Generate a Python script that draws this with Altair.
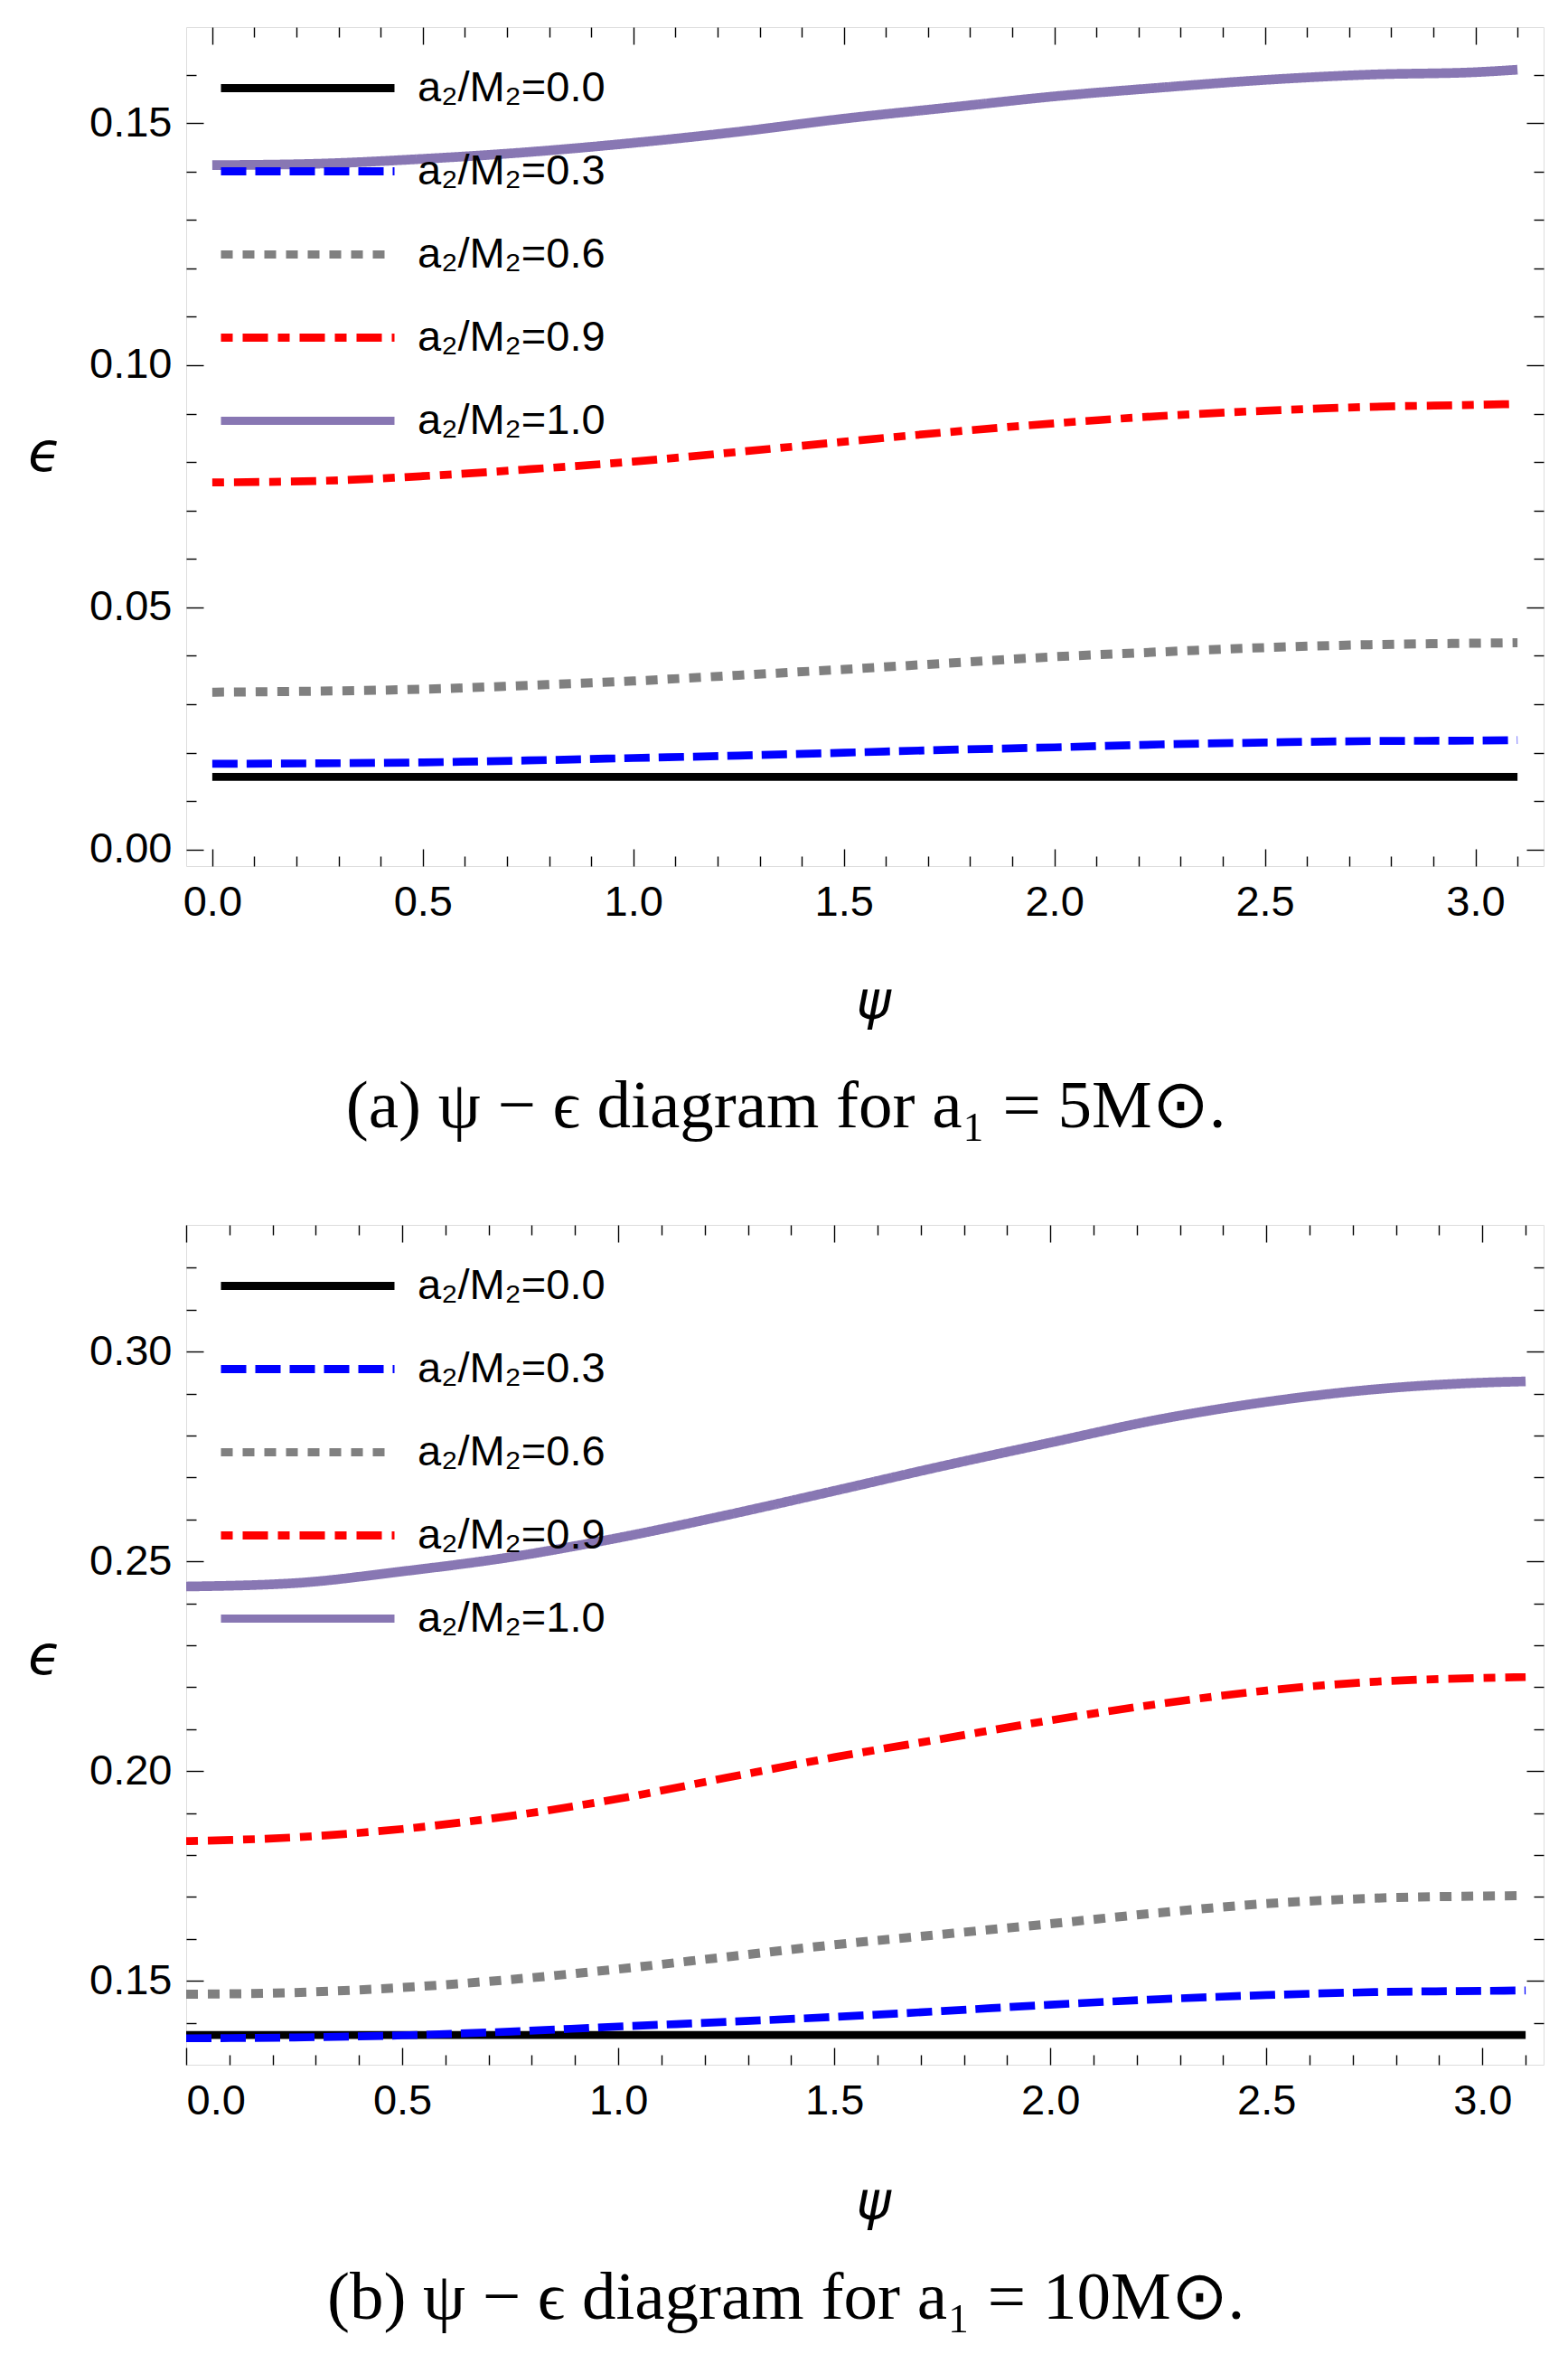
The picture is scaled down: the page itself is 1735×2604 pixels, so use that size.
import altair as alt
import pandas as pd

# ---------------- data ----------------
psi = [0.0, 0.25, 0.5, 0.75, 1.0, 1.25, 1.5, 1.75, 2.0, 2.25, 2.5, 2.75, 3.0, 3.1]

ratios = [0.0, 0.3, 0.6, 0.9, 1.0]
labels = ["a₂/M₂=0.0", "a₂/M₂=0.3", "a₂/M₂=0.6", "a₂/M₂=0.9", "a₂/M₂=1.0"]

# panel (a): a1 = 5 M_sun
a_00 = [0.0150, 0.0150, 0.0150, 0.0150, 0.0150, 0.0150, 0.0150, 0.0150, 0.0150, 0.0150, 0.0150, 0.0150, 0.0150, 0.0150]
a_03 = [0.0177, 0.0178, 0.0180, 0.0184, 0.0189, 0.0194, 0.0200, 0.0206, 0.0211, 0.0217, 0.0221, 0.0224, 0.0225, 0.0226]
a_06 = [0.0325, 0.0327, 0.0331, 0.0339, 0.0348, 0.0360, 0.0372, 0.0385, 0.0398, 0.0408, 0.0417, 0.0423, 0.0426, 0.0427]
a_09 = [0.0758, 0.0761, 0.0771, 0.0785, 0.0801, 0.0821, 0.0842, 0.0862, 0.0880, 0.0895, 0.0906, 0.0914, 0.0918, 0.0920]
a_10 = [0.1413, 0.1416, 0.1426, 0.1440, 0.1459, 0.1482, 0.1509, 0.1532, 0.1555, 0.1573, 0.1589, 0.1600, 0.1605, 0.1610]

# panel (b): a1 = 10 M_sun
b_00 = [0.1371, 0.1371, 0.1371, 0.1371, 0.1371, 0.1371, 0.1371, 0.1371, 0.1371, 0.1371, 0.1371, 0.1371, 0.1371, 0.1371]
b_03 = [0.1363, 0.1365, 0.1370, 0.1379, 0.1391, 0.1402, 0.1414, 0.1428, 0.1443, 0.1456, 0.1466, 0.1473, 0.1476, 0.1477]
b_06 = [0.1468, 0.1472, 0.1484, 0.1503, 0.1528, 0.1557, 0.1586, 0.1611, 0.1636, 0.1662, 0.1684, 0.1697, 0.1702, 0.1703]
b_09 = [0.1833, 0.1842, 0.1862, 0.1893, 0.1934, 0.1984, 0.2033, 0.2077, 0.2121, 0.2160, 0.2192, 0.2213, 0.2222, 0.2224]
b_10 = [0.2440, 0.2448, 0.2476, 0.2510, 0.2556, 0.2610, 0.2668, 0.2727, 0.2783, 0.2838, 0.2880, 0.2910, 0.2926, 0.2929]

# axis ticks
x_major = [0.0, 0.5, 1.0, 1.5, 2.0, 2.5, 3.0]
x_minor = [0.1, 0.2, 0.3, 0.4, 0.6, 0.7, 0.8, 0.9, 1.1, 1.2, 1.3, 1.4, 1.6, 1.7, 1.8, 1.9,
           2.1, 2.2, 2.3, 2.4, 2.6, 2.7, 2.8, 2.9, 3.1]
ya_major = [0.0, 0.05, 0.10, 0.15]
ya_minor = [0.01, 0.02, 0.03, 0.04, 0.06, 0.07, 0.08, 0.09, 0.11, 0.12, 0.13, 0.14, 0.16]
yb_major = [0.15, 0.20, 0.25, 0.30]
yb_minor = [0.14, 0.16, 0.17, 0.18, 0.19, 0.21, 0.22, 0.23, 0.24, 0.26, 0.27, 0.28, 0.29, 0.31, 0.32]

xa_domain = [-0.062, 3.162]
ya_domain = [-0.0034, 0.1698]
xb_domain = [0.0, 3.1416]
yb_domain = [0.1300, 0.3302]

caption_a = "(a) ψ − ϵ diagram for a₁ = 5M⊙."
caption_b = "(b) ψ − ϵ diagram for a₁ = 10M⊙."

# ---------------- styles ----------------
colors = ["#000000", "#0000ff", "#808080", "#ff0000", "#8877b3"]
dashes = [[1, 0], [28, 10], [13, 11], [13, 11, 28, 11], [1, 0]]
SANS = "Liberation Sans"
MATH = "DejaVu Sans"
SERIF = "Liberation Serif"
W = 1502
LEGEND_LINE = "M-4,0H4"   # long horizontal legend sample (scaled by symbolSize)


def long_table(series):
    rows = []
    for lab, r, vals in zip(labels, ratios, series):
        for p, v in zip(psi, vals):
            rows.append({"psi": p, "eps": v, "series": lab, "ratio": r})
    return pd.DataFrame(rows)


def tick_axis(orient, values, size):
    return alt.Axis(orient=orient, values=values, tickSize=size, offset=-size,
                    labels=False, domain=False, grid=False, ticks=True,
                    tickColor="black", tickWidth=1.4, title=None)


def panel(df, xdom, ydom, ymaj, ymin, caption, height, eps_y, psi_y, cap_offset):
    xs = alt.Scale(domain=xdom, nice=False, zero=False)
    ys = alt.Scale(domain=ydom, nice=False, zero=False)
    legend = alt.Legend(orient="none", legendX=106, legendY=39, title=None,
                        symbolType=LEGEND_LINE, symbolSize=2304, symbolStrokeWidth=9,
                        labelFont=SANS, labelFontSize=47, labelColor="black",
                        labelOffset=93, labelLimit=600, rowPadding=40, padding=0)
    color = alt.Color("series:N", scale=alt.Scale(domain=labels, range=colors), legend=legend)
    dash = alt.StrokeDash("series:N", scale=alt.Scale(domain=labels, range=dashes), legend=legend)
    width_enc = {"condition": [{"test": "datum.ratio == 1", "value": 10.7},
                               {"test": "datum.ratio == 0.6", "value": 10}],
                 "value": 8.7}

    lines = alt.Chart(df).mark_line(strokeCap="butt", strokeJoin="round",
                                    interpolate="monotone", clip=True).encode(
        x=alt.X("psi:Q", scale=xs, axis=alt.Axis(
            orient="bottom", values=x_major, format=".1f", tickSize=19, offset=-19,
            labelPadding=17, domain=False, grid=False, tickColor="black", tickWidth=1.4,
            labelFont=SANS, labelFontSize=47, labelColor="black",
            title="ψ", titleFont=MATH, titleFontStyle="italic", titleFontWeight="normal",
            titleFontSize=58, titleColor="black", titleX=760, titleY=psi_y,
            titleAlign="center", titleBaseline="middle")),
        y=alt.Y("eps:Q", scale=ys, axis=alt.Axis(
            orient="left", values=ymaj, format=".2f", tickSize=19, offset=-19,
            labelPadding=16, domain=False, grid=False, tickColor="black", tickWidth=1.4,
            labelFont=SANS, labelFontSize=47, labelColor="black",
            title="ϵ", titleFont=MATH, titleFontStyle="italic", titleFontWeight="normal",
            titleFontSize=60, titleColor="black", titleAngle=0, titleX=-176, titleY=eps_y,
            titleAlign="center", titleBaseline="middle")),
        color=color,
        strokeDash=dash,
        strokeWidth=width_enc,
    )

    ghost = alt.Chart(df).mark_point(opacity=0, size=1)
    l_minor = ghost.encode(x=alt.X("psi:Q", scale=xs, axis=tick_axis("bottom", x_minor, 11)),
                           y=alt.Y("eps:Q", scale=ys, axis=tick_axis("left", ymin, 11)))
    l_top = ghost.encode(x=alt.X("psi:Q", scale=xs, axis=tick_axis("top", x_major, 19)),
                         y=alt.Y("eps:Q", scale=ys, axis=tick_axis("right", ymaj, 19)))
    l_top_minor = ghost.encode(x=alt.X("psi:Q", scale=xs, axis=tick_axis("top", x_minor, 11)),
                               y=alt.Y("eps:Q", scale=ys, axis=tick_axis("right", ymin, 11)))

    return alt.layer(lines, l_minor, l_top, l_top_minor).properties(
        width=W, height=height,
        title=alt.TitleParams(text=caption, orient="bottom", anchor="middle", frame="bounds",
                              font=SERIF, fontSize=75, fontWeight="normal", color="black",
                              offset=cap_offset),
    )


df_a = long_table([a_00, a_03, a_06, a_09, a_10])
df_b = long_table([b_00, b_03, b_06, b_09, b_10])

top = panel(df_a, xa_domain, ya_domain, ya_major, ya_minor, caption_a, 928, 472, 170, 50)
bottom = panel(df_b, xb_domain, yb_domain, yb_major, yb_minor, caption_b, 929, 478, 172, 40)

chart = alt.vconcat(top, bottom, spacing=90).resolve_scale(
    color="independent", strokeDash="independent"
).resolve_legend(
    color="independent", strokeDash="independent"
).properties(
    padding={"left": 22, "top": 20, "right": 0, "bottom": 5}
).configure_view(stroke="black", strokeWidth=1.4).configure(background="white")

chart.save("out.html", embed_options={"renderer": "svg", "actions": False})
